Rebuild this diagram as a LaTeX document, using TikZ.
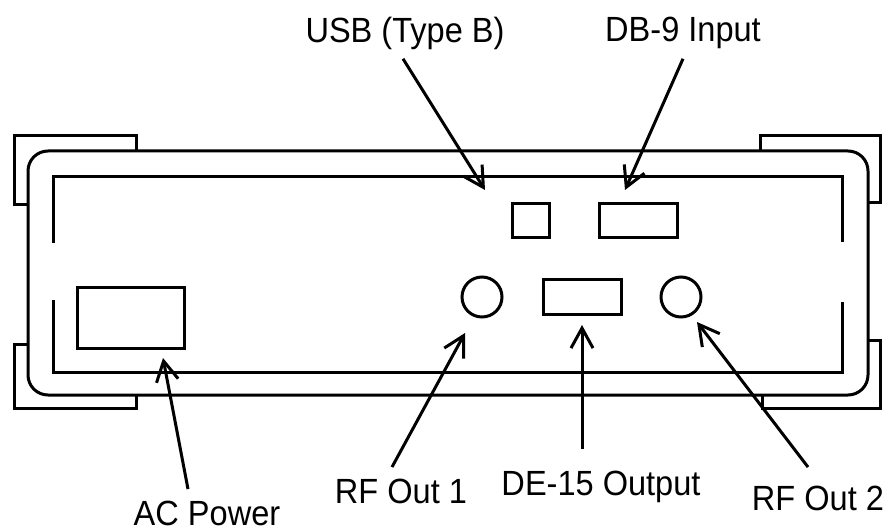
\documentclass[tikz,border=0pt]{standalone}
\usepackage{fontspec}
\setmainfont{Liberation Sans}
\usetikzlibrary{arrows.meta,calc}

\begin{document}
\begin{tikzpicture}[x=1pt, y=-1pt, line width=3pt,
    portbox/.style={draw, rectangle, inner sep=0pt, outer sep=0pt},
    portjack/.style={draw, circle, inner sep=0pt, outer sep=0pt, minimum size=40pt},
    caption/.style={font=\fontsize{35}{40}\selectfont, xscale=0.93, inner sep=4pt, anchor=base},
    pointer/.style={-{Straight Barb[length=20pt, width=22pt]}}]
  \useasboundingbox (0,0) rectangle (888,529);
  % case
  \draw [rounded corners=20pt] (28,151) rectangle (868,395);
  \draw (53,243) -- (53,177) -- (842,177) -- (842,242);
  \draw (53,300) -- (53,372) -- (842,372) -- (842,302);
  % feet
  \draw (27,205) -- (14,205) -- (14,136) -- (136,136) -- (136,151);
  \draw (760,151) -- (760,136) -- (880,136) -- (880,203) -- (868,203);
  \draw (27,344) -- (14,344) -- (14,408) -- (136,408) -- (136,395);
  \draw (868,340) -- (880,340) -- (880,408) -- (762,408) -- (762,395);
  % ports
  \node [portbox, minimum width=107pt, minimum height=61pt] (ac) at (131,318) {};
  \node [portbox, minimum width=37pt, minimum height=34pt] (usb) at (531,220.5) {};
  \node [portbox, minimum width=78pt, minimum height=34pt] (db9) at (638.5,220.5) {};
  \node [portbox, minimum width=78pt, minimum height=35pt] (de15) at (582.5,297) {};
  \node [portjack] (rf1) at (482,297) {};
  \node [portjack] (rf2) at (681,297) {};
  % labels
  \node [caption] (usblabel) at (405,43) {USB (Type B)};
  \node [caption] (db9label) at (683,42) {DB-9 Input};
  \node [caption] (aclabel) at (207,525) {AC Power};
  \node [caption] (rf1label) at (401,503) {RF Out 1};
  \node [caption] (de15label) at (601,495) {DE-15 Output};
  \node [caption] (rf2label) at (818,510) {RF Out 2};
  % arrow tips
  \coordinate (usbtip) at (485,190);
  \coordinate (db9tip) at (625,190);
  \coordinate (actip) at (163,358);
  \coordinate (rf1tip) at (465,333);
  \coordinate (de15tip) at (582,325);
  \coordinate (rf2tip) at (697,322);
  \foreach \P/\A/\dx/\dy in {usb/south/-2/3, db9/south/0/4,
      ac/north/-19/-6, rf1/north/-9/-6,
      de15/north/-19/-16, rf2/north/-10/-13} {
    \draw [pointer] ($(\P label.\A)+(\dx,\dy)$) -- (\P tip);
  }
\end{tikzpicture}
\end{document}
